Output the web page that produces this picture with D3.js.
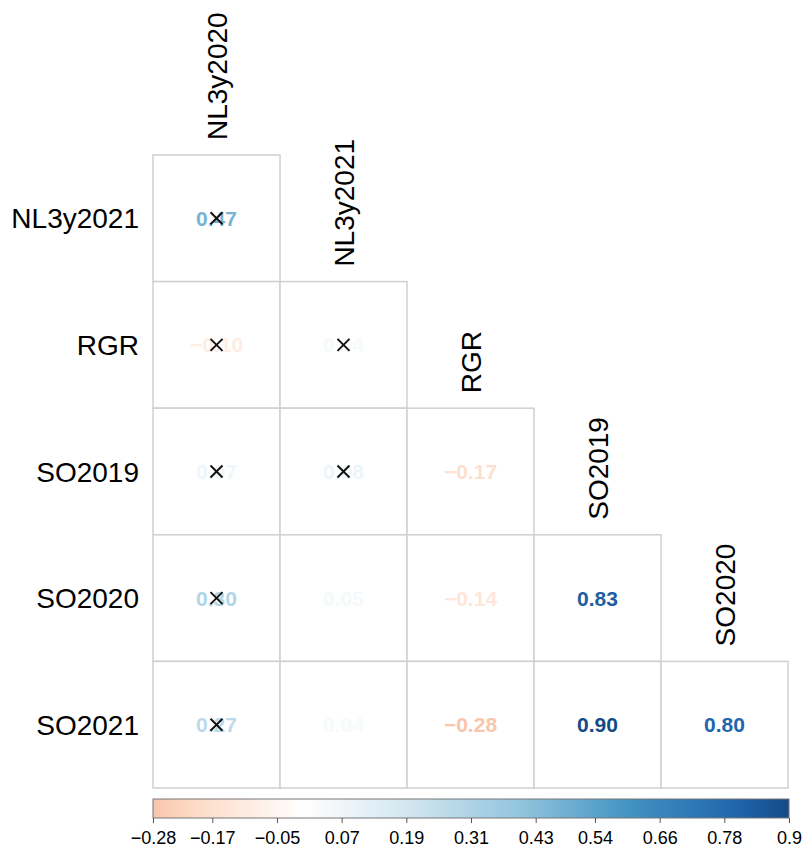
<!DOCTYPE html>
<html>
<head>
<meta charset="utf-8">
<script src="https://cdn.jsdelivr.net/npm/d3@7"></script>
<style>
  html, body { margin: 0; padding: 0; background: #ffffff; }
  svg { display: block; font-family: "Liberation Sans", Arial, Helvetica, sans-serif; }
</style>
</head>
<body>
<svg id="chart" width="802" height="850"></svg>
<script>
// ---- Data ----
const rowVars = ["NL3y2021", "RGR", "SO2019", "SO2020", "SO2021"];
const colVars = ["NL3y2020", "NL3y2021", "RGR", "SO2019", "SO2020"];
// lower-triangle correlation values, one array per row
const corrNL3y2021 = [0.47];
const corrRGR      = [-0.10, 0.04];
const corrSO2019   = [0.07, 0.08, -0.17];
const corrSO2020   = [0.30, 0.05, -0.14, 0.83];
const corrSO2021   = [0.27, 0.04, -0.28, 0.90, 0.80];
// non-significant flags (crossed out)
const crossNL3y2021 = [true];
const crossRGR      = [true, true];
const crossSO2019   = [true, true, false];
const crossSO2020   = [true, false, false, false];
const crossSO2021   = [true, false, false, false, false];
const colorbarTicks = [-0.28, -0.17, -0.05, 0.07, 0.19, 0.31, 0.43, 0.54, 0.66, 0.78, 0.9];
const rdbuStops = ["#67001F", "#B2182B", "#D6604D", "#F4A582", "#FDDBC7", "#FFFFFF",
                   "#D1E5F0", "#92C5DE", "#4393C3", "#2166AC", "#053061"];

const corrRows = [corrNL3y2021, corrRGR, corrSO2019, corrSO2020, corrSO2021];
const crossRows = [crossNL3y2021, crossRGR, crossSO2019, crossSO2020, crossSO2021];

const cells = [];
corrRows.forEach((vals, i) => vals.forEach((v, j) => {
  cells.push({ row: rowVars[i], col: colVars[j], value: v, cross: crossRows[i][j] });
}));

// ---- Layout ----
const svg = d3.select("#chart");
const gridLeft = 153, gridRight = 788, gridTop = 155, gridBottom = 788;

const x = d3.scaleBand().domain(colVars).range([gridLeft, gridRight]).padding(0);
const y = d3.scaleBand().domain(rowVars).range([gridTop, gridBottom]).padding(0);

const color = d3.scaleLinear()
  .domain(d3.range(rdbuStops.length).map(k => -1 + 2 * k / (rdbuStops.length - 1)))
  .range(rdbuStops)
  .interpolate(d3.interpolateRgb);

const fmt = v => (v < 0 ? "\u2212" : "") + Math.abs(v).toFixed(2);

// Cells
const g = svg.append("g");
g.selectAll("rect.cell")
  .data(cells)
  .join("rect")
  .attr("class", "cell")
  .attr("x", d => x(d.col))
  .attr("y", d => y(d.row))
  .attr("width", x.bandwidth())
  .attr("height", y.bandwidth())
  .attr("fill", "#ffffff")
  .attr("stroke", "#d0d0d0")
  .attr("stroke-width", 1.5);

// Numbers
g.selectAll("text.num")
  .data(cells)
  .join("text")
  .attr("class", "num")
  .attr("x", d => x(d.col) + x.bandwidth() / 2)
  .attr("y", d => y(d.row) + y.bandwidth() / 2)
  .attr("dy", "0.36em")
  .attr("text-anchor", "middle")
  .attr("font-size", 21)
  .attr("font-weight", "bold")
  .attr("fill", d => color(d.value))
  .text(d => fmt(d.value));

// Crosses for non-significant
const cs = 6;
const crossG = g.selectAll("g.cross")
  .data(cells.filter(d => d.cross))
  .join("g")
  .attr("class", "cross")
  .attr("transform", d => `translate(${x(d.col) + x.bandwidth() / 2},${y(d.row) + y.bandwidth() / 2})`);
crossG.append("line").attr("x1", -cs).attr("y1", -cs).attr("x2", cs).attr("y2", cs)
  .attr("stroke", "#111").attr("stroke-width", 2);
crossG.append("line").attr("x1", -cs).attr("y1", cs).attr("x2", cs).attr("y2", -cs)
  .attr("stroke", "#111").attr("stroke-width", 2);

// Row labels
svg.append("g").selectAll("text")
  .data(rowVars)
  .join("text")
  .attr("x", 139)
  .attr("y", d => y(d) + y.bandwidth() / 2)
  .attr("dy", "0.36em")
  .attr("text-anchor", "end")
  .attr("font-size", 28)
  .attr("fill", "#000")
  .text(d => d);

// Column labels (rotated, above diagonal cell)
svg.append("g").selectAll("text")
  .data(colVars)
  .join("text")
  .attr("transform", (d, j) => {
    const cx = x(d) + x.bandwidth() / 2;
    const topY = y(rowVars[j]) - 15;
    return `translate(${cx},${topY}) rotate(-90)`;
  })
  .attr("dy", "0.36em")
  .attr("text-anchor", "start")
  .attr("font-size", 28)
  .attr("fill", "#000")
  .text(d => d);

// ---- Colorbar ----
const cbLeft = 153, cbRight = 789, cbTop = 799, cbBottom = 818;
const cbScale = d3.scaleLinear()
  .domain([colorbarTicks[0], colorbarTicks[colorbarTicks.length - 1]])
  .range([cbLeft, cbRight]);

const defs = svg.append("defs");
const grad = defs.append("linearGradient").attr("id", "cbgrad")
  .attr("x1", "0%").attr("x2", "100%").attr("y1", "0%").attr("y2", "0%");
const nStops = 60;
d3.range(nStops + 1).forEach(k => {
  const t = k / nStops;
  const v = cbScale.domain()[0] + t * (cbScale.domain()[1] - cbScale.domain()[0]);
  grad.append("stop").attr("offset", (t * 100) + "%").attr("stop-color", color(v));
});

svg.append("rect")
  .attr("x", cbLeft).attr("y", cbTop)
  .attr("width", cbRight - cbLeft).attr("height", cbBottom - cbTop)
  .attr("fill", "url(#cbgrad)")
  .attr("stroke", "#777").attr("stroke-width", 1);

const axis = d3.axisBottom(cbScale)
  .tickValues(colorbarTicks)
  .tickSize(5)
  .tickPadding(8)
  .tickFormat(v => (v < 0 ? "\u2212" : "") + String(Math.abs(v)));

const ax = svg.append("g")
  .attr("transform", `translate(0,${cbBottom})`)
  .call(axis);
ax.select(".domain").remove();
ax.selectAll(".tick line").attr("stroke", "#555");
ax.selectAll(".tick text")
  .attr("font-size", 18)
  .attr("font-family", "'Liberation Sans', Arial, Helvetica, sans-serif")
  .attr("fill", "#000");
</script>
</body>
</html>
